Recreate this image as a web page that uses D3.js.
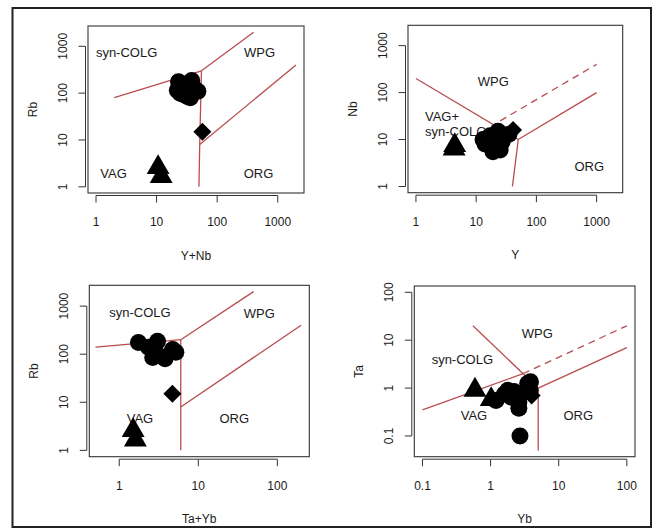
<!DOCTYPE html>
<html><head><meta charset="utf-8">
<script src="https://cdn.jsdelivr.net/npm/d3@7"></script>
<style>
body{margin:0;background:#fff}
svg{display:block}
text{font-family:"Liberation Sans",Arial,Helvetica,sans-serif;fill:#1a1a1a}
</style>
</head><body>
<svg id="chart" width="657" height="530"></svg>
<script>
// ---------------- data ----------------
// circles (granite samples)
const circleRb = [175, 185, 115, 100, 80, 125, 110, 95, 140, 100, 120, 85];
const circleY  = [13, 23, 14, 19, 27, 30, 35, 20, 17, 25, 28, 24];
const circleNb = [10, 15, 8, 5.5, 9, 12, 13, 7, 12, 6, 11, 8];
const circleYb = [1.2, 2.2, 1.8, 2.6, 3.0, 3.5, 3.85, 2.6, 1.6, 2.7, 3.8, 2.0];
const circleTa = [0.55, 0.85, 0.9, 0.38, 0.8, 1.25, 1.35, 0.5, 0.75, 0.1, 0.9, 0.65];
// triangles
const triangleRb = [2.6, 1.66];
const triangleY  = [4.3, 4.4];
const triangleNb = [6.3, 7.5];
const triangleYb = [0.59, 1.02];
const triangleTa = [0.91, 0.58];
// diamond
const diamondRb = [15];
const diamondY  = [41];
const diamondNb = [16];
const diamondYb = [4.0];
const diamondTa = [0.7];

// Pearce et al. (1984) discrimination boundaries [[x1,y1],[x2,y2]]
const rbYNbLines = [[[2,80],[55,300]], [[55,300],[400,2000]], [[55,300],[51.5,8]], [[51.5,8],[2000,400]], [[51.5,8],[50,1]]];
const nbYLines = [[[1,200],[50,10]], [[50,10],[1000,100]], [[50,10],[40,1]]];
const nbYDashed = [[[25,25],[1000,400]]];
const rbYbTaLines = [[[0.5,140],[6,200]], [[6,200],[50,2000]], [[6,1],[6,200]], [[6,8],[200,400]]];
const taYbLines = [[[0.1,0.35],[3,2]], [[0.55,20],[3,2]], [[3,2],[5,1]], [[5,1],[5,0.05]], [[5,1],[100,7]]];
const taYbDashed = [[[3,2],[100,20]]];

// tick labels
const ticks1to1000 = [1, 10, 100, 1000];
const ticks1to100 = [1, 10, 100];
const ticks01to100 = [0.1, 1, 10, 100];

// region labels [text, x, y]
const labels1 = [["syn-COLG",3.2,730],["WPG",500,730],["VAG",1.95,1.9],["ORG",480,1.9]];
const labels2 = [["WPG",19.2,171],["ORG",755,2.64]];
const labels2b = [["VAG+",1.41,31.7],["syn-COLG",1.41,14.7]];
const labels3 = [["syn-COLG",1.83,730],["WPG",59,710],["VAG",1.83,4.64],["ORG",28.5,4.64]];
const labels4 = [["WPG",4.85,13.5],["syn-COLG",0.385,3.86],["VAG",0.57,0.274],["ORG",19.4,0.274]];

// ---------------- drawing ----------------
const svg = d3.select("#chart");
const lineColor = "#b84c50";
const R = 8.5;

function ext(lo, hi) {
  const a = Math.log10(lo), b = Math.log10(hi), d = (b - a) * 0.04;
  return [Math.pow(10, a - d), Math.pow(10, b + d)];
}
const fmt = v => (v < 1 ? String(v) : String(v));

const panels = [
  { box:[88,304,26,193], xlim:[1,2000], ylim:[1,2000], xt:ticks1to1000, yt:ticks1to1000,
    xl:"Y+Nb", yl:"Rb", lines:rbYNbLines, dashed:[], labels:labels1, leftLabels:[],
    cx: circleY.map((v,i)=>v+circleNb[i]), cy: circleRb,
    tx: triangleY.map((v,i)=>v+triangleNb[i]), ty: triangleRb,
    dx: diamondY.map((v,i)=>v+diamondNb[i]), dy: diamondRb },
  { box:[408,622.7,25.3,192.7], xlim:[1,2000], ylim:[1,2000], xt:ticks1to1000, yt:ticks1to1000,
    xl:"Y", yl:"Nb", lines:nbYLines, dashed:nbYDashed, labels:labels2, leftLabels:labels2b,
    cx: circleY, cy: circleNb, tx: triangleY, ty: triangleNb, dx: diamondY, dy: diamondNb },
  { box:[89.3,309.3,285.3,456.7], xlim:[0.53,200], ylim:[1,2000], xt:ticks1to100, yt:ticks1to1000,
    xl:"Ta+Yb", yl:"Rb", lines:rbYbTaLines, dashed:[], labels:labels3, leftLabels:[],
    cx: circleTa.map((v,i)=>v+circleYb[i]), cy: circleRb,
    tx: triangleTa.map((v,i)=>v+triangleYb[i]), ty: triangleRb,
    dx: diamondTa.map((v,i)=>v+diamondYb[i]), dy: diamondRb },
  { box:[414.3,635,286,456.7], xlim:[0.1,100], ylim:[0.05,100], xt:ticks01to100, yt:[0.1,1,10,100],
    xl:"Yb", yl:"Ta", lines:taYbLines, dashed:taYbDashed, labels:labels4, leftLabels:[],
    cx: circleYb, cy: circleTa, tx: triangleYb, ty: triangleTa, dx: diamondYb, dy: diamondTa }
];

// outer frame
svg.append("rect").attr("x",12.5).attr("y",8).attr("width",638.5).attr("height",519)
  .attr("fill","none").attr("stroke","#222").attr("stroke-width",2);

panels.forEach(p => {
  const [x0,x1,y0,y1] = p.box;
  const x = d3.scaleLog().domain(ext(...p.xlim)).range([x0,x1]);
  const y = d3.scaleLog().domain(ext(...p.ylim)).range([y1,y0]);
  const g = svg.append("g");

  // x axis
  const ax = g.append("g").attr("stroke","#333").attr("stroke-width",1);
  const xa = y1 + 2.5;
  ax.append("line").attr("x1",x(p.xt[0])).attr("x2",x(p.xt[p.xt.length-1])).attr("y1",xa).attr("y2",xa);
  p.xt.forEach(t => {
    ax.append("line").attr("x1",x(t)).attr("x2",x(t)).attr("y1",xa).attr("y2",xa+7);
    g.append("text").attr("x",x(t)).attr("y",y1+29).attr("text-anchor","middle")
      .attr("dominant-baseline","central").attr("font-size",12).text(fmt(t));
  });
  // y axis
  const ya = x0 - 2.5;
  ax.append("line").attr("y1",y(p.yt[0])).attr("y2",y(p.yt[p.yt.length-1])).attr("x1",ya).attr("x2",ya);
  p.yt.forEach(t => {
    ax.append("line").attr("y1",y(t)).attr("y2",y(t)).attr("x1",ya).attr("x2",ya-7);
    g.append("text").attr("transform",`translate(${x0-25},${y(t)}) rotate(-90)`)
      .attr("text-anchor","middle").attr("dominant-baseline","central").attr("font-size",12).text(fmt(t));
  });
  // axis titles
  g.append("text").attr("x",(x0+x1)/2).attr("y",y1+62.5).attr("text-anchor","middle")
    .attr("dominant-baseline","central").attr("font-size",12).text(p.xl);
  g.append("text").attr("transform",`translate(${x0-55},${(y0+y1)/2}) rotate(-90)`)
    .attr("text-anchor","middle").attr("dominant-baseline","central").attr("font-size",12).text(p.yl);

  // box
  g.append("rect").attr("x",x0).attr("y",y0).attr("width",x1-x0).attr("height",y1-y0)
    .attr("fill","none").attr("stroke","#333").attr("stroke-width",1.1);

  // region labels
  p.labels.forEach(([t,lx,ly]) => g.append("text").attr("x",x(lx)).attr("y",y(ly))
    .attr("text-anchor","middle").attr("dominant-baseline","central").attr("font-size",13).text(t));
  p.leftLabels.forEach(([t,lx,ly]) => g.append("text").attr("x",x(lx)).attr("y",y(ly))
    .attr("text-anchor","start").attr("dominant-baseline","central").attr("font-size",13).text(t));

  // boundaries
  const line = d3.line().x(d=>x(d[0])).y(d=>y(d[1]));
  p.lines.forEach(s => g.append("path").attr("d",line(s)).attr("fill","none")
    .attr("stroke",lineColor).attr("stroke-width",1.3));
  p.dashed.forEach(s => g.append("path").attr("d",line(s)).attr("fill","none")
    .attr("stroke",lineColor).attr("stroke-width",1.3).attr("stroke-dasharray","7,5"));

  // points
  p.cx.forEach((v,i) => g.append("circle").attr("cx",x(v)).attr("cy",y(p.cy[i])).attr("r",R).attr("fill","#000"));
  const tri = d3.symbol().type(d3.symbolTriangle);
  p.tx.forEach((v,i) => {
    const cx = x(v), cy = y(p.ty[i]);
    const pts = [[cx, cy-1.555*R],[cx+1.347*R, cy+0.778*R],[cx-1.347*R, cy+0.778*R]];
    g.append("path").attr("d","M"+pts.map(q=>q.join(",")).join("L")+"Z").attr("fill","#000");
  });
  p.dx.forEach((v,i) => {
    const cx = x(v), cy = y(p.dy[i]), h = 9;
    g.append("path").attr("d",`M${cx},${cy-h}L${cx+h},${cy}L${cx},${cy+h}L${cx-h},${cy}Z`).attr("fill","#000");
  });
});
</script>
</body></html>
